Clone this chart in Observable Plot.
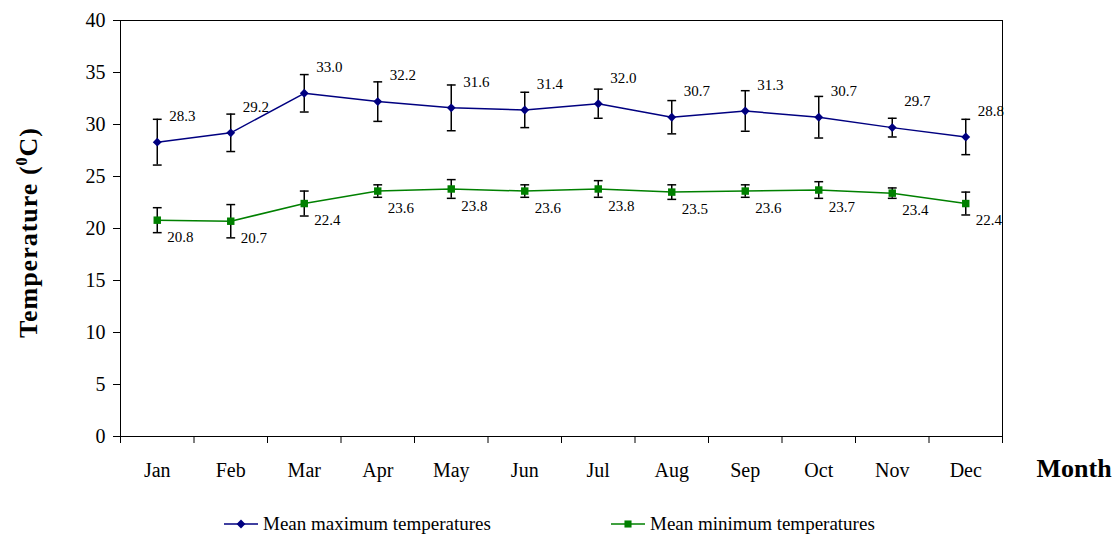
<!DOCTYPE html>
<html><head><meta charset="utf-8">
<script src="https://cdn.jsdelivr.net/npm/d3@7"></script>
<script src="https://cdn.jsdelivr.net/npm/@observablehq/plot@0.6"></script>
<style>
body{margin:0;background:#fff;font-family:"Liberation Serif","Times New Roman",serif;}
#legend{position:relative;width:1115px;height:37px;font-size:19px;color:#000;}
.item{position:absolute;top:13px;display:flex;align-items:center;white-space:nowrap;}
.item svg{margin-right:5px;}
</style></head>
<body>
<div id="chart"></div>
<div id="legend"></div>
<script>
const months = ["Jan","Feb","Mar","Apr","May","Jun","Jul","Aug","Sep","Oct","Nov","Dec"];
const maxTemp = [28.3,29.2,33.0,32.2,31.6,31.4,32.0,30.7,31.3,30.7,29.7,28.8];
const maxErr  = [2.2,1.8,1.8,1.9,2.2,1.7,1.4,1.6,1.95,2.0,0.9,1.7];
const minTemp = [20.8,20.7,22.4,23.6,23.8,23.6,23.8,23.5,23.6,23.7,23.4,22.4];
const minErr  = [1.2,1.6,1.2,0.6,0.9,0.6,0.8,0.7,0.6,0.8,0.5,1.1];
const yTicks  = [0,5,10,15,20,25,30,35,40];
const seriesNames = ["Mean maximum temperatures","Mean minimum temperatures"];
const seriesColors = ["#000080","#008000"];
const seriesSymbols = ["diamond2","square"];

const rows = months.map((m,i)=>({month:m, x:i+0.5, max:maxTemp[i], maxE:maxErr[i], min:minTemp[i], minE:minErr[i]}));
const cap = 0.06;

function errMarks(v,e){
  return [
    Plot.ruleX(rows,{x:"x", y1:d=>d[v]-d[e], y2:d=>d[v]+d[e], stroke:"#000", strokeWidth:1.5}),
    Plot.link(rows,{x1:d=>d.x-cap, x2:d=>d.x+cap, y1:d=>d[v]+d[e], y2:d=>d[v]+d[e], stroke:"#000", strokeWidth:1.5}),
    Plot.link(rows,{x1:d=>d.x-cap, x2:d=>d.x+cap, y1:d=>d[v]-d[e], y2:d=>d[v]-d[e], stroke:"#000", strokeWidth:1.5})
  ];
}

const chart = Plot.plot({
  width:1115, height:500,
  marginTop:20, marginBottom:64, marginLeft:120, marginRight:113,
  style:{fontFamily:'"Liberation Serif","Times New Roman",serif', fontSize:"20px", background:"#fff", color:"#000"},
  x:{type:"linear", domain:[0,12]},
  y:{domain:[0,40]},
  marks:[
    Plot.frame({stroke:"#000", strokeWidth:1}),
    Plot.axisY({ticks:yTicks, tickSize:7, tickPadding:8, fontSize:20, label:null}),
    Plot.axisX({ticks:d3.range(0,13), tickSize:7, tickFormat:()=>"", label:null}),
    Plot.axisX({ticks:rows.map(d=>d.x), tickSize:0, tickPadding:26, fontSize:20, tickFormat:(t)=>months[Math.floor(t)], label:null}),
    ...errMarks("max","maxE"),
    ...errMarks("min","minE"),
    Plot.line(rows,{x:"x", y:"max", stroke:seriesColors[0], strokeWidth:1.5}),
    Plot.line(rows,{x:"x", y:"min", stroke:seriesColors[1], strokeWidth:1.5}),
    Plot.dot(rows,{x:"x", y:"max", symbol:seriesSymbols[0], r:4, fill:seriesColors[0], stroke:null}),
    Plot.dot(rows,{x:"x", y:"min", symbol:seriesSymbols[1], r:4.2, fill:seriesColors[1], stroke:null}),
    Plot.text(rows,{x:"x", y:"max", text:d=>d.max.toFixed(1), textAnchor:"start", dx:12, dy:-26, fontSize:15}),
    Plot.text(rows,{x:"x", y:"min", text:d=>d.min.toFixed(1), textAnchor:"start", dx:10, dy:17, fontSize:15}),
    Plot.text(["Temperature (0C)"],{frameAnchor:"left", textAnchor:"middle", rotate:-90, dx:-92, dy:4, fontSize:26, fontWeight:"bold"}),
    Plot.text(["Month"],{frameAnchor:"bottom-right", textAnchor:"start", dx:34, dy:40, fontSize:26, fontWeight:"bold"})
  ]
});
document.getElementById("chart").appendChild(chart);

// superscript 0 in the y-axis title
d3.select(chart).selectAll("text").filter(function(){return this.textContent==="Temperature (0C)";})
  .each(function(){
    const t=d3.select(this); t.text(null).attr("letter-spacing","1px");
    t.append("tspan").text("Temperature (");
    t.append("tspan").attr("dy","-10").attr("font-size","16").text("0");
    t.append("tspan").attr("dy","10").text("C)");
  });

// legend
const lg = d3.select("#legend");
const lefts = [224,611];
seriesNames.forEach((name,i)=>{
  const it = lg.append("div").attr("class","item").style("left",lefts[i]+"px");
  const s = it.append("svg").attr("width",34).attr("height",14);
  s.append("line").attr("x1",0).attr("x2",34).attr("y1",7).attr("y2",7).attr("stroke",seriesColors[i]).attr("stroke-width",1.5);
  const sym = i===0 ? d3.symbol(d3.symbolDiamond2, Math.PI*16) : d3.symbol(d3.symbolSquare, Math.PI*16);
  s.append("path").attr("d",sym()).attr("transform","translate(17,7)").attr("fill",seriesColors[i]);
  it.append("span").text(name);
});
</script>
</body></html>
